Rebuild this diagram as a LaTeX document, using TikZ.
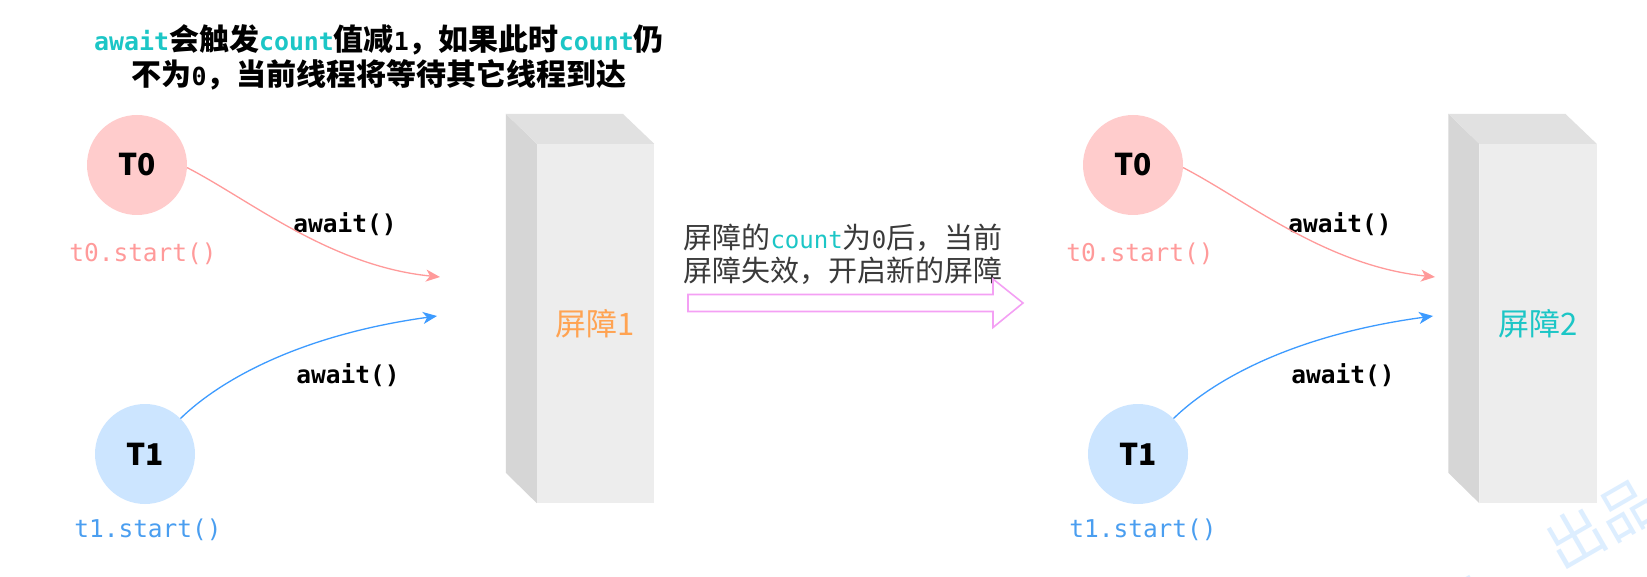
\documentclass[tikz,border=0pt]{standalone}
\usepackage{fontspec}
\setmainfont{Noto Sans CJK SC}
\newfontfamily\mono[Scale=0.83]{DejaVu Sans Mono}
\usetikzlibrary{arrows.meta}
\definecolor{tealc}{HTML}{1CC6C6}
\definecolor{pinkfill}{HTML}{FFCCCC}
\definecolor{pinkline}{HTML}{FF9A9A}
\definecolor{bluefill}{HTML}{CCE5FF}
\definecolor{blueline}{HTML}{3D9BFF}
\definecolor{bluetext}{HTML}{4A9EF0}
\definecolor{orangec}{HTML}{FFA352}
\definecolor{barfront}{HTML}{EDEDED}
\definecolor{bartop}{HTML}{E1E1E1}
\definecolor{barleft}{HTML}{D6D6D6}
\definecolor{violetc}{HTML}{F4A0F4}
\definecolor{midtext}{HTML}{3A3A3A}
\definecolor{wmark}{HTML}{DDEEFF}
\newcommand\latw[1]{{\mono\color{tealc}#1}}
\begin{document}
\begin{tikzpicture}[x=1pt,y=-1pt,
  thr/.style={circle,minimum size=100pt,inner sep=0pt,
    font=\fontsize{30}{30}\selectfont\bfseries},
  thrlabel/.style={inner sep=0pt,font=\fontsize{29.5}{30}\selectfont\mono},
  callabel/.style={inner sep=0pt,font=\fontsize{29.5}{30}\selectfont\mono\bfseries},
  barfrontface/.style={minimum width=117pt,minimum height=359pt,inner sep=0pt,
    fill=barfront,font=\fontsize{31}{31}\selectfont},
  pinkarrow/.style={draw=pinkline,line width=1.3pt,
    -{Stealth[length=14pt,width=12pt,inset=4pt]}},
  bluearrow/.style={draw=blueline,line width=1.3pt,
    -{Stealth[length=14pt,width=12pt,inset=4pt]}},
  wm/.style={text=wmark,rotate=30,font=\fontsize{58}{58}\selectfont,inner sep=0pt},
  ]
\fill[white] (0,0) rectangle (1647,577);
\useasboundingbox (0,0) rectangle (1647,577);

% watermark
\node[wm] (wm1) at (1601,523) {出品};
\node[wm] (wm2) at (1492,594) {】};

% top note
\node[align=center,inner sep=0pt,font=\fontsize{30}{35}\selectfont\bfseries] (note) at (379,57)
  {\latw{await}会触发\latw{count}值减{\mono 1}，如果此时\latw{count}仍\\
   不为{\mono 0}，当前线程将等待其它线程到达};

% barrier 1
\node[barfrontface,text=orangec] (b1) at (595.5,323.5) {屏障1};
\fill[barleft] (b1.north west) -- ++(-31,-30) -- ++(0,359) -- (b1.south west) -- cycle;
\fill[bartop] (b1.north west) -- ++(-31,-30) -- ++(117,0) -- (b1.north east) -- cycle;

% barrier 2
\node[barfrontface,text=tealc] (b2) at (1538,323.5) {屏障2};
\fill[barleft] (b2.north west) -- ++(-31,-30) -- ++(0,359) -- (b2.south west) -- cycle;
\fill[bartop] (b2.north west) -- ++(-31,-30) -- ++(117,0) -- (b2.north east) -- cycle;

% left group
\node[thr,fill=pinkfill] (t0a) at (137,165) {T0};
\node[thr,fill=bluefill] (t1a) at (145,454) {T1};
\node[thrlabel,text=pinkline] (s0a) at (143,254) {t0.start()};
\node[thrlabel,text=bluetext] (s1a) at (148,530) {t1.start()};
\node[callabel] (c0a) at (345,224) {await()};
\node[callabel] (c1a) at (348,375) {await()};
\coordinate (e0a) at (440,277);
\coordinate (e1a) at (437,316);
\draw[pinkarrow] (t0a.-3) .. controls (250,200) and (330,266) .. (e0a);
\draw[bluearrow] (t1a.45) .. controls (220,380) and (300,335) .. (e1a);

% right group
\node[thr,fill=pinkfill] (t0b) at (1133,165) {T0};
\node[thr,fill=bluefill] (t1b) at (1138,454) {T1};
\node[thrlabel,text=pinkline] (s0b) at (1140,254) {t0.start()};
\node[thrlabel,text=bluetext] (s1b) at (1143,530) {t1.start()};
\node[callabel] (c0b) at (1340,224) {await()};
\node[callabel] (c1b) at (1343,375) {await()};
\coordinate (e0b) at (1435,277);
\coordinate (e1b) at (1433,316);
\draw[pinkarrow] (t0b.-3) .. controls (1246,200) and (1326,266) .. (e0b);
\draw[bluearrow] (t1b.45) .. controls (1213,380) and (1293,335) .. (e1b);

% middle text and hollow arrow
\node[align=left,inner sep=0pt,text=midtext,font=\fontsize{29}{33}\selectfont] (mid) at (843,254)
  {屏障的\latw{count}为{\mono 0}后，当前\\屏障失效，开启新的屏障};
\coordinate (ha) at (688,303);
\coordinate (hb) at (1023,303);
\draw[violetc,line width=1.6pt,fill=white]
  (ha) ++(0,-8.5) -- ++(305,0) -- ++(0,-15.5) -- (hb) -- ++(-30,24.5) -- ++(0,-16) -- ++(-305,0) -- cycle;
\end{tikzpicture}
\end{document}
